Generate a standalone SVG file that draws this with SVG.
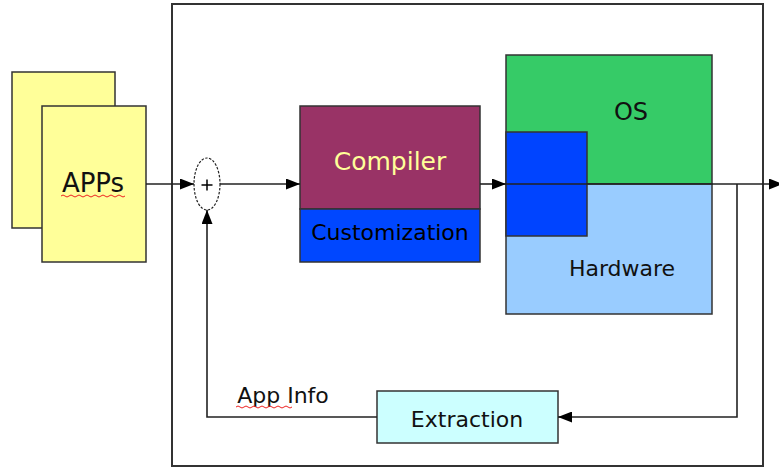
<svg xmlns="http://www.w3.org/2000/svg" width="779" height="468" viewBox="0 0 779 468">
  <style>
    .box { stroke: #333333; stroke-width: 1.5; }
    .frame { fill: none; stroke: #333333; stroke-width: 2; }
    .wire { fill: none; stroke: #222222; stroke-width: 1.6; }
    .lbl { font-family: "DejaVu Sans", "Liberation Sans", sans-serif; font-size: 22px; fill: #111111; text-anchor: middle; }
    .squiggle { fill: none; stroke: #ee2222; stroke-width: 1; }
  </style>
  <defs>
    <marker id="arrow" markerUnits="userSpaceOnUse" markerWidth="15" markerHeight="11" refX="14" refY="5.5" orient="auto">
      <path d="M0,0 L14,5.5 L0,11 z" fill="#000000"/>
    </marker>
  </defs>

  <rect width="779" height="468" fill="#ffffff"/>

  <!-- system boundary -->
  <rect class="frame" x="172" y="4" width="591" height="462"/>

  <!-- application stack -->
  <g id="apps">
    <rect class="box" x="12" y="72" width="103" height="156" fill="#ffff99"/>
    <rect class="box" x="42" y="106" width="104" height="156" fill="#ffff99"/>
    <text class="lbl" x="93" y="192" style="font-size:26px">APPs</text>
    <path class="squiggle" d="M61,196 q2,-2 4,0 t4,0 t4,0 t4,0 t4,0 t4,0 t4,0 t4,0 t4,0 t4,0 t4,0 t4,0 t4,0 t4,0 t4,0 t4,0"/>
  </g>

  <!-- summing junction -->
  <g id="sum">
    <ellipse cx="207" cy="184" rx="13" ry="26" fill="#ffffff" stroke="#222222" stroke-width="1.2" stroke-dasharray="2.5,1.5"/>
    <path d="M201.5,185 h11 M207,179.5 v11" stroke="#000000" stroke-width="1.5"/>
  </g>

  <!-- compiler with customization layer -->
  <g id="compiler">
    <rect class="box" x="300" y="106" width="180" height="103" fill="#993366"/>
    <text class="lbl" x="390" y="170" style="font-size:25px;fill:#ffff99">Compiler</text>
  </g>
  <g id="customization">
    <rect class="box" x="300" y="209" width="180" height="53" fill="#0047ff"/>
    <text class="lbl" x="390" y="240" style="fill:#000000">Customization</text>
  </g>

  <!-- platform: OS over hardware -->
  <g id="os">
    <rect class="box" x="506" y="55" width="206" height="129" fill="#36cb67"/>
    <text class="lbl" x="631" y="120" style="font-size:24px">OS</text>
  </g>
  <g id="hardware">
    <rect class="box" x="506" y="184" width="206" height="130" fill="#99ccff"/>
    <text class="lbl" x="622" y="276">Hardware</text>
  </g>
  <g id="custom-layer">
    <rect class="box" x="506" y="132" width="81" height="104" fill="#0044ff"/>
  </g>

  <!-- feedback extraction -->
  <g id="extraction">
    <rect class="box" x="377" y="391" width="181" height="52" fill="#ccffff"/>
    <text class="lbl" x="467" y="427">Extraction</text>
  </g>

  <g id="app-info">
    <text class="lbl" x="283" y="403">App Info</text>
    <path class="squiggle" d="M236,407 q2,-2 4,0 t4,0 t4,0 t4,0 t4,0 t4,0 t4,0 t4,0 t4,0 t4,0 t4,0 t4,0 t4,0 t4,0"/>
  </g>

  <!-- connectors -->
  <g id="connectors">
    <line class="wire" x1="146" y1="184" x2="194" y2="184" marker-end="url(#arrow)"/>
    <line class="wire" x1="220" y1="184" x2="300" y2="184" marker-end="url(#arrow)"/>
    <line class="wire" x1="480" y1="184" x2="506" y2="184" marker-end="url(#arrow)"/>
    <line class="wire" x1="506" y1="184" x2="783" y2="184" marker-end="url(#arrow)"/>
    <polyline class="wire" points="737,184 737,417 558,417" marker-end="url(#arrow)"/>
    <polyline class="wire" points="377,417 207,417 207,210" marker-end="url(#arrow)"/>
  </g>
</svg>
